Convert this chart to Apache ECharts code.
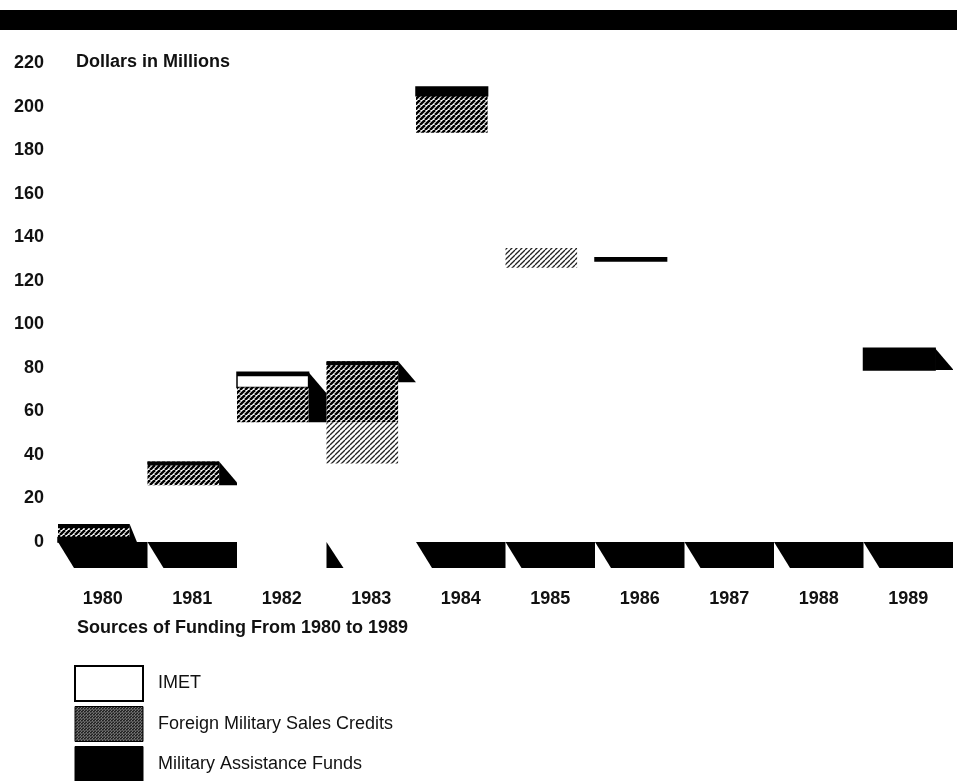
<!DOCTYPE html>
<html><head><meta charset="utf-8">
<script src="https://cdn.jsdelivr.net/npm/echarts@6.0.0/dist/echarts.min.js"></script>
<style>html,body{margin:0;padding:0;background:#fff}#c{width:957px;height:781px}</style>
</head><body><div id="c"></div>
<script>
// ---------- DATA ----------
const years = ['1980','1981','1982','1983','1984','1985','1986','1987','1988','1989'];
const yTicks = [0,20,40,60,80,100,120,140,160,180,200,220];
// floating [low, high] segments in $ millions
const imet       = [null, null, [71,78], null, null, null, null, null, null, null];
const fmsCredits = [[2,8.3], [26,37], [55,71], [55,83], [188,205], null, null, null, null, null];
const fmsFaded   = [null, null, null, [36,55], null, [126,135], null, null, null, null];
const maf        = [[0,2], null, null, null, [205,209], null, [129,130.5], null, null, [79,89]];
const floorDepth = [-12, -12, null, -12, -12, -12, -12, -12, -12, -12];

// ---------- STYLE ----------
const FONT = '"Liberation Sans", Arial, sans-serif';
const FLOOR_SHAPE = ['slab','slab','none','wedge','slab','slab','slab','slab','slab','slab'];
const SIDE_KIND = ['floor','full','full','tri','none','none','none','none','none','full'];
const FRONT = 0.8, SIDE_DY = 21, TOP_STRIP = 4;

function hatch(period, lw, color) {
  const c = document.createElement('canvas'); c.width = c.height = period;
  const g = c.getContext('2d'); g.fillStyle = '#fff'; g.fillRect(0,0,period,period);
  g.strokeStyle = color; g.lineWidth = lw;
  for (let k = -1; k <= 1; k++) { g.beginPath(); g.moveTo(k*period, period); g.lineTo(k*period+period, 0); g.stroke(); }
  return c;
}
const darkHatch = {image: hatch(5, 2.5, '#000'), repeat: 'repeat'};
const fadedHatch = {image: hatch(5, 1.3, '#222'), repeat: 'repeat'};
const legendHatch = {image: hatch(3, 1.6, '#000'), repeat: 'repeat'};

function segData(arr) { const out = []; arr.forEach((s,i) => { if (s) out.push([i, s[0], s[1]]); }); return out; }

function segRender(fill, stroke) {
  return function (params, api) {
    const i = api.value(0), lo = api.value(1), hi = api.value(2);
    const bw = api.size([1, 0])[0];
    const L = api.coord([i, 0])[0] - bw / 2;
    const yLo = api.coord([i, lo])[1], yHi = api.coord([i, hi])[1];
    return {type: 'rect', shape: {x: L, y: yHi, width: bw * FRONT, height: yLo - yHi},
      style: {fill: fill, stroke: stroke, lineWidth: stroke ? 1.5 : 0}};
  };
}

// stack extents for the 3D side faces (computed from the data series)
const stackData = [];
years.forEach((y, i) => {
  const segs = [imet[i], fmsCredits[i], maf[i]].filter(Boolean);
  if (!segs.length || SIDE_KIND[i] === 'none') return;
  stackData.push([i, Math.min(...segs.map(s => s[0])), Math.max(...segs.map(s => s[1]))]);
});
const floorData = [];
floorDepth.forEach((d, i) => { if (d != null && FLOOR_SHAPE[i] !== 'none') floorData.push([i, 0, d]); });

const option = {
  animation: false,
  backgroundColor: '#fff',
  grid: {left: 58, right: 4, top: 63, bottom: 195.5},
  xAxis: {type: 'category', data: years, boundaryGap: true,
    axisLine: {show: false}, axisTick: {show: false}, splitLine: {show: false},
    axisLabel: {margin: 5, fontSize: 18, fontWeight: 'bold', color: '#111', fontFamily: FONT}},
  yAxis: {type: 'value', min: -20, max: 220, interval: 20,
    axisLine: {show: false}, axisTick: {show: false}, splitLine: {show: false},
    axisLabel: {margin: 14, fontSize: 18, fontWeight: 'bold', color: '#111', fontFamily: FONT,
      formatter: v => (yTicks.indexOf(v) >= 0 ? String(v) : '')}},
  legend: {orient: 'vertical', left: 74, top: 665, width: 400, height: 160, padding: 0,
    itemWidth: 68, itemHeight: 35, itemGap: 4,
    icon: 'rect', selectedMode: false,
    textStyle: {fontSize: 18, color: '#111', fontFamily: FONT, padding: [0, 0, 0, 10]},
    data: [
      {name: 'IMET', itemStyle: {color: '#fff', borderColor: '#000', borderWidth: 2}},
      {name: 'Foreign Military Sales Credits', itemStyle: {color: legendHatch, borderColor: '#000', borderWidth: 1}},
      {name: 'Military Assistance Funds', itemStyle: {color: '#000', borderColor: '#000', borderWidth: 1}}
    ]},
  graphic: [
    {type: 'rect', left: 0, top: 10, shape: {width: 957, height: 20}, style: {fill: '#000'}},
    {type: 'text', left: 76, top: 53, style: {text: 'Dollars in Millions', font: 'bold 18px ' + FONT, fill: '#111'}},
    {type: 'text', left: 77, top: 619, style: {text: 'Sources of Funding From 1980 to 1989', font: 'bold 18px ' + FONT, fill: '#111'}}
  ],
  series: [
    {type: 'custom', name: 'floor', z: 1, data: floorData, encode: {x: 0, y: [1, 2]},
      renderItem: function (params, api) {
        const i = api.value(0);
        const bw = api.size([1, 0])[0];
        const L = api.coord([i, 0])[0] - bw / 2;
        const y0 = api.coord([i, 0])[1], yD = api.coord([i, api.value(2)])[1];
        const pts = FLOOR_SHAPE[i] === 'wedge'
          ? [[L, y0], [L + 17, yD], [L, yD]]
          : [[L, y0], [L + bw, y0], [L + bw, yD], [L + 16, yD]];
        return {type: 'polygon', shape: {points: pts}, style: {fill: '#000'}};
      }},
    {type: 'custom', name: 'IMET', z: 2, data: segData(imet), encode: {x: 0, y: [1, 2]},
      itemStyle: {color: '#fff', borderColor: '#000'}, renderItem: segRender('#fff', '#000')},
    {type: 'custom', name: 'Foreign Military Sales Credits', z: 2, data: segData(fmsCredits), encode: {x: 0, y: [1, 2]},
      itemStyle: {color: legendHatch}, renderItem: segRender(darkHatch, null)},
    {type: 'custom', name: 'Foreign Military Sales Credits (faded print)', z: 2, data: segData(fmsFaded), encode: {x: 0, y: [1, 2]},
      renderItem: segRender(fadedHatch, null)},
    {type: 'custom', name: 'Military Assistance Funds', z: 2, data: segData(maf), encode: {x: 0, y: [1, 2]},
      itemStyle: {color: '#000'}, renderItem: segRender('#000', '#000')},
    {type: 'custom', name: 'sides', z: 3, data: stackData, encode: {x: 0, y: [1, 2]},
      renderItem: function (params, api) {
        const i = api.value(0);
        const bw = api.size([1, 0])[0];
        const L = api.coord([i, 0])[0] - bw / 2, R = L + bw * FRONT, dx = bw * (1 - FRONT);
        const yB = api.coord([i, api.value(1)])[1], yT = api.coord([i, api.value(2)])[1];
        let pts;
        const kind = SIDE_KIND[i];
        if (kind === 'tri') pts = [[R, yT], [R + dx, yT + SIDE_DY], [R, yT + SIDE_DY]];
        else if (kind === 'floor') {
          const yF = api.coord([i, floorDepth[i]])[1];
          pts = [[R, yT], [L + bw, yF], [R, yF]];
        } else {
          const yb = Math.max(yT + SIDE_DY, yB);
          pts = [[R, yT], [R + dx, yT + SIDE_DY], [R + dx, yb], [R, yb]];
        }
        return {type: 'group', children: [
          {type: 'polygon', shape: {points: pts}, style: {fill: '#000'}},
          {type: 'rect', shape: {x: L, y: yT, width: bw * FRONT, height: TOP_STRIP}, style: {fill: '#000'}}
        ]};
      }}
  ]
};
const chart = echarts.init(document.getElementById('c'), null, {renderer: 'canvas'});
chart.setOption(option);
</script></body></html>
